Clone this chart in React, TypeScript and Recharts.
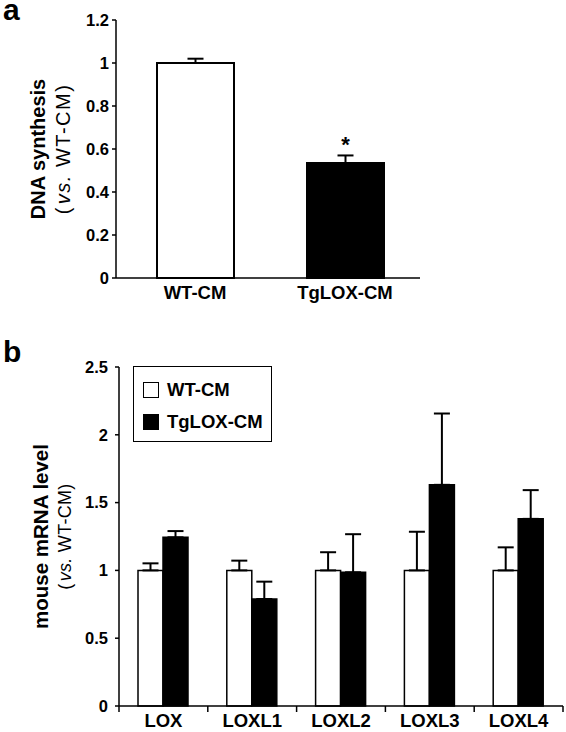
import { Bar, BarChart, Cell, ErrorBar, LabelList, Legend, XAxis, YAxis } from "recharts";

const FONT = "'Liberation Sans', Arial, Helvetica, sans-serif";

// panel a
const aGroups = ["WT-CM", "TgLOX-CM"];
const aValues = [1, 0.535];
const aErrors = [0.02, 0.035];
const aMarks = ["", "*"];
const aFills = ["#ffffff", "#000000"];
const aTicks = [0, 0.2, 0.4, 0.6, 0.8, 1, 1.2];

// panel b
const bGenes = ["LOX", "LOXL1", "LOXL2", "LOXL3", "LOXL4"];
const bWT = [1, 1, 1, 1, 1];
const bWTErr = [0.052, 0.072, 0.134, 0.285, 0.17];
const bTg = [1.244, 0.789, 0.986, 1.631, 1.38];
const bTgErr = [0.046, 0.128, 0.281, 0.526, 0.212];
const bTicks = [0, 0.5, 1, 1.5, 2, 2.5];
const seriesNames = ["WT-CM", "TgLOX-CM"];
const seriesFills = ["#ffffff", "#000000"];

const aData = aGroups.map((g, i) => ({
  group: g,
  value: aValues[i],
  err: [0, aErrors[i]],
  mark: aMarks[i],
}));

const bData = bGenes.map((g, i) => ({
  gene: g,
  wt: bWT[i],
  wtErr: [0, bWTErr[i]],
  tg: bTg[i],
  tgErr: [0, bTgErr[i]],
}));

const AxisTitle = ({ viewBox, title, titleX, subX, titleSize, subSize, subSpacing }: any) => {
  const cy = viewBox.y + viewBox.height / 2;
  return (
    <g>
      <text
        x={titleX}
        y={cy}
        transform={`rotate(-90, ${titleX}, ${cy})`}
        textAnchor="middle"
        dominantBaseline="central"
        fontFamily={FONT}
        fontWeight="bold"
        fontSize={titleSize}
        fill="#000"
      >
        {title}
      </text>
      <text
        x={subX}
        y={cy}
        transform={`rotate(-90, ${subX}, ${cy})`}
        textAnchor="middle"
        dominantBaseline="central"
        fontFamily={FONT}
        fontSize={subSize}
        letterSpacing={subSpacing}
        fill="#000"
      >
        {"("}
        <tspan dx={2} fontStyle="italic">vs.</tspan>
        {" WT-CM)"}
      </text>
    </g>
  );
};

const CategoryTick = ({ x, y, payload, index, edges, lastIndex }: any) => {
  const half = payload?.offset ?? 0;
  return (
    <g>
      {edges && <line x1={x - half} x2={x - half} y1={y} y2={y + 6} stroke="#000" strokeWidth={1.5} />}
      {edges && index === lastIndex && (
        <line x1={x + half} x2={x + half} y1={y} y2={y + 6} stroke="#000" strokeWidth={1.5} />
      )}
      <text x={x} y={y + 21} textAnchor="middle" fontFamily={FONT} fontWeight="bold" fontSize={18.5} fill="#000">
        {payload.value}
      </text>
    </g>
  );
};

const LegendBox = () => (
  <div
    style={{
      position: "relative",
      width: 139,
      height: 76,
      border: "1.5px solid #000",
      boxSizing: "border-box",
      background: "#fff",
      fontFamily: FONT,
    }}
  >
    {seriesNames.map((name, i) => (
      <div
        key={name}
        style={{
          position: "absolute",
          left: 9,
          top: 13 + i * 32,
          height: 20,
          display: "flex",
          alignItems: "center",
        }}
      >
        <div
          style={{
            width: 16,
            height: 16,
            boxSizing: "border-box",
            border: "1.5px solid #000",
            background: seriesFills[i],
          }}
        />
        <span style={{ marginLeft: 8, fontSize: 18.5, fontWeight: "bold", color: "#000", whiteSpace: "nowrap" }}>
          {name}
        </span>
      </div>
    ))}
  </div>
);

const yTick = { fill: "#000", fontSize: 16.5, fontWeight: "bold", fontFamily: FONT };
const axisStroke = { stroke: "#000", strokeWidth: 1.5 };
const panelLetter = {
  position: "absolute" as const,
  left: 3,
  fontFamily: FONT,
  fontWeight: "bold",
  fontSize: 30,
  lineHeight: "20px",
};

export default function App() {
  return (
    <div style={{ position: "absolute", left: 0, top: 0, width: 566, height: 732, background: "#fff" }}>
      <div style={{ ...panelLetter, top: 0 }}>a</div>
      <div style={{ ...panelLetter, top: 342 }}>b</div>

      <div style={{ position: "absolute", left: 0, top: 0 }}>
        <BarChart width={566} height={310} data={aData} margin={{ top: 20, right: 146, bottom: 0, left: 66 }}>
          <XAxis
            dataKey="group"
            height={32}
            axisLine={axisStroke}
            tickLine={false}
            tickSize={0}
            tickMargin={0}
            interval={0}
            padding={{ left: 4, right: 0 }}
            tick={<CategoryTick edges={false} />}
          />
          <YAxis
            width={50}
            domain={[0, 1.2]}
            ticks={aTicks}
            axisLine={axisStroke}
            tickLine={axisStroke}
            tickSize={4}
            tickMargin={3}
            tick={yTick}
            label={(p: any) => (
              <AxisTitle
                viewBox={p.viewBox}
                title="DNA synthesis"
                titleX={38}
                subX={63}
                titleSize={20}
                subSize={20}
                subSpacing={1.5}
              />
            )}
          />
          <Bar dataKey="value" barSize={77} stroke="#000" strokeWidth={2} isAnimationActive={false}>
            {aData.map((d, i) => (
              <Cell key={d.group} fill={aFills[i]} />
            ))}
            <ErrorBar dataKey="err" direction="y" width={8} stroke="#000" strokeWidth={2} />
            <LabelList dataKey="mark" position="top" offset={11} fill="#000" fontSize={22} fontWeight="bold" fontFamily={FONT} />
          </Bar>
        </BarChart>
      </div>

      <div style={{ position: "absolute", left: 0, top: 340 }}>
        <BarChart
          width={566}
          height={392}
          data={bData}
          barGap={0}
          margin={{ top: 27, right: 3, bottom: 0, left: 59 }}
        >
          <XAxis
            dataKey="gene"
            height={26}
            axisLine={axisStroke}
            tickLine={false}
            tickSize={0}
            tickMargin={0}
            interval={0}
            tick={<CategoryTick edges={true} lastIndex={bGenes.length - 1} />}
          />
          <YAxis
            width={60}
            domain={[0, 2.5]}
            ticks={bTicks}
            axisLine={axisStroke}
            tickLine={axisStroke}
            tickSize={4}
            tickMargin={7}
            tick={yTick}
            label={(p: any) => (
              <AxisTitle
                viewBox={p.viewBox}
                title="mouse mRNA level"
                titleX={40}
                subX={65}
                titleSize={20.5}
                subSize={18}
                subSpacing={0.3}
              />
            )}
          />
          <Legend
            verticalAlign="middle"
            align="center"
            content={<LegendBox />}
            wrapperStyle={{ position: "absolute", left: 133, top: 26, width: 139, height: 76 }}
          />
          <Bar dataKey="wt" name={seriesNames[0]} barSize={25} fill={seriesFills[0]} stroke="#000" strokeWidth={1.5} isAnimationActive={false}>
            <ErrorBar dataKey="wtErr" direction="y" width={8} stroke="#000" strokeWidth={2} />
          </Bar>
          <Bar dataKey="tg" name={seriesNames[1]} barSize={25} fill={seriesFills[1]} stroke="#000" strokeWidth={1.5} isAnimationActive={false}>
            <ErrorBar dataKey="tgErr" direction="y" width={8} stroke="#000" strokeWidth={2} />
          </Bar>
        </BarChart>
      </div>
    </div>
  );
}
